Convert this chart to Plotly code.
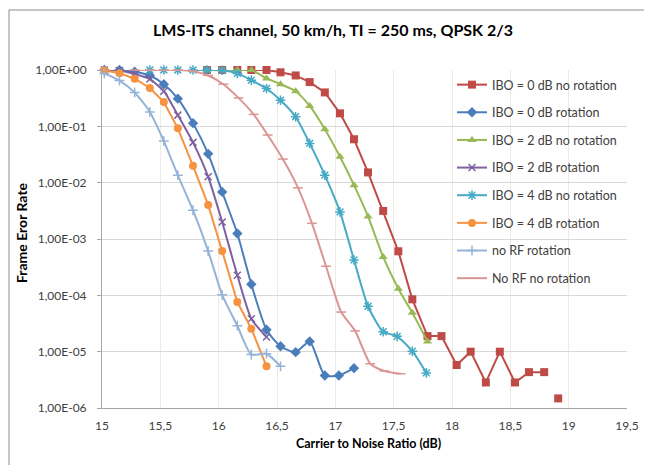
import plotly.graph_objects as go

# ---------------- data ----------------
x_ticks = [15, 15.5, 16, 16.5, 17, 17.5, 18, 18.5, 19, 19.5]
x_tick_text = ["15", "15,5", "16", "16,5", "17", "17,5", "18", "18,5", "19", "19,5"]
y_ticks = [1e-6, 1e-5, 1e-4, 1e-3, 1e-2, 1e-1, 1e0]
y_tick_text = ["1,00E-06", "1,00E-05", "1,00E-04", "1,00E-03", "1,00E-02", "1,00E-01", "1,00E+00"]

ibo0_norot_x = [15.9, 16.03, 16.16, 16.28, 16.41, 16.53, 16.66, 16.78, 16.91, 17.04, 17.16, 17.28, 17.41,
                17.54, 17.66, 17.79, 17.91, 18.04, 18.16, 18.29, 18.41, 18.54, 18.66, 18.79, None, 18.91]
ibo0_norot_y = [1.0, 1.0, 1.0, 1.0, 1.0, 0.91, 0.80, 0.61, 0.40, 0.17, 0.059, 0.0152, 0.00315,
                6.05e-4, 8.5e-5, 1.89e-5, 1.89e-5, 5.8e-6, 1.0e-5, 2.84e-6, 1.0e-5, 2.84e-6, 4.33e-6, 4.33e-6, None, 1.48e-6]

ibo0_rot_x = [15.02, 15.15, 15.28, 15.41, 15.53, 15.65, 15.78, 15.91, 16.03, 16.16, 16.28, 16.41,
              16.53, 16.66, 16.78, 16.91, 17.03, 17.16]
ibo0_rot_y = [1.0, 1.0, 0.93, 0.80, 0.56, 0.31, 0.114, 0.0325, 0.00686, 0.00125, 1.57e-4, 2.45e-5,
              1.25e-5, 9.8e-6, 1.52e-5, 3.78e-6, 3.78e-6, 5.1e-6]

ibo2_norot_x = [15.9, 16.03, 16.16, 16.28, 16.41, 16.53, 16.66, 16.78, 16.91, 17.04, 17.16, 17.28,
                17.41, 17.54, 17.66, 17.79]
ibo2_norot_y = [1.0, 1.0, 1.0, 1.0, 0.71, 0.56, 0.42, 0.23, 0.089, 0.0288, 0.00903, 0.00252,
                4.8e-4, 1.31e-4, 4.9e-5, 1.52e-5]

ibo2_rot_x = [15.02, 15.15, 15.28, 15.41, 15.53, 15.65, 15.78, 15.91, 16.03, 16.16, 16.28, 16.41]
ibo2_rot_y = [1.0, 0.98, 0.85, 0.69, 0.42, 0.158, 0.0519, 0.0127, 0.00201, 2.27e-4, 3.85e-5, 1.82e-5]

ibo4_norot_x = [15.41, 15.53, 15.65, 15.78, 15.9, 16.03, 16.16, 16.28, 16.41, 16.53, 16.66, 16.78,
                16.91, 17.04, 17.16, 17.28, 17.41, 17.53, 17.66, 17.78]
ibo4_norot_y = [1.0, 1.0, 1.0, 1.0, 1.0, 0.99, 0.87, 0.66, 0.47, 0.29, 0.148, 0.0498,
                0.0136, 0.00303, 4.25e-4, 6.4e-5, 2.26e-5, 1.87e-5, 1.02e-5, 4.2e-6]

ibo4_rot_x = [15.02, 15.15, 15.28, 15.41, 15.53, 15.65, 15.78, 15.91, 16.03, 16.16, 16.28, 16.41]
ibo4_rot_y = [0.98, 0.88, 0.70, 0.48, 0.27, 0.092, 0.0199, 0.00403, 6.1e-4, 7.6e-5, 2.56e-5, 5.5e-6]

norf_rot_x = [15.02, 15.15, 15.28, 15.41, 15.53, 15.65, 15.78, 15.91, 16.03, 16.16, 16.28, 16.41, 16.53]
norf_rot_y = [0.87, 0.65, 0.40, 0.18, 0.0547, 0.0136, 0.00324, 6.1e-4, 1.02e-4, 2.89e-5, 8.9e-6, 9.2e-6, 5.5e-6]

norf_norot_x = [15.28, 15.41, 15.53, 15.65, 15.78, 15.91, 16.04, 16.17, 16.30, 16.42, 16.55, 16.68,
                16.80, 16.92, 17.05, 17.17, 17.30, 17.42, 17.56]
norf_norot_y = [1.0, 1.0, 1.0, 1.0, 0.95, 0.80, 0.56, 0.32, 0.163, 0.070, 0.0262, 0.0081,
                0.0019, 3.28e-4, 5.05e-5, 2.34e-5, 6.1e-6, 4.55e-6, 4.06e-6]

series = [
    ("IBO = 0 dB no rotation", ibo0_norot_x, ibo0_norot_y, "#BE4B48", "square", 8, "linear"),
    ("IBO = 0 dB rotation", ibo0_rot_x, ibo0_rot_y, "#4A7EBB", "diamond", 8, "spline"),
    ("IBO = 2 dB no rotation", ibo2_norot_x, ibo2_norot_y, "#98B954", "triangle-up", 8, "spline"),
    ("IBO = 2 dB rotation", ibo2_rot_x, ibo2_rot_y, "#7D60A0", "x-thin", 7, "spline"),
    ("IBO = 4 dB no rotation", ibo4_norot_x, ibo4_norot_y, "#46AAC5", "asterisk", 8, "spline"),
    ("IBO = 4 dB rotation", ibo4_rot_x, ibo4_rot_y, "#F69240", "circle", 8, "linear"),
    ("no RF rotation", norf_rot_x, norf_rot_y, "#95B3D7", "cross-thin", 7, "spline"),
    ("No RF no rotation", norf_norot_x, norf_norot_y, "#D99694", "line-ew", 7, "spline"),
]

FONT = "Lato, 'Liberation Sans', Arial, sans-serif"
TXT = "#404040"

# page offset compensation (the page body adds 8 px on the left and top)
OFF = 8
L, T = 102 - OFF, 70 - OFF
R, B = 33, 65  # plot spans page x 102..627 and page y 70..408


def px_x(page_x):
    return (page_x - 102) / 525


def px_y(page_y):
    return (408 - page_y) / 338


fig = go.Figure()
for i, (name, xs, ys, col, sym, size, shape) in enumerate(series):
    thin = sym in ("x-thin", "asterisk", "cross-thin", "line-ew")
    fig.add_trace(go.Scatter(
        x=xs, y=ys, name=name, mode="lines+markers",
        line=dict(color=col, width=2, shape=shape, smoothing=0.6),
        marker=dict(symbol=sym, size=size, color=col,
                    line=dict(color=col, width=1.5 if thin else 0)),
        cliponaxis=False, connectgaps=False, legendgroup="g%d" % i,
    ))

fig.update_layout(
    width=652, height=465,
    paper_bgcolor="white", plot_bgcolor="white",
    margin=dict(l=L, r=R, t=T, b=B),
    font=dict(family=FONT, size=12, color=TXT),
    title=dict(text="<b>LMS-ITS channel, 50 km/h, TI = 250 ms, QPSK 2/3</b>",
               x=(333 - OFF) / 652, xanchor="center", y=1 - (30 - OFF) / 465, yanchor="middle",
               font=dict(family=FONT, size=16, color="black")),
    showlegend=True,
    legend=dict(x=px_x(452), xanchor="left", y=1.0, yanchor="top",
                bgcolor="rgba(0,0,0,0)", borderwidth=0, tracegroupgap=8.4,
                itemwidth=30, font=dict(family=FONT, size=12.5, color=TXT),
                traceorder="grouped"),
    xaxis=dict(range=[15, 19.5], tickvals=x_ticks, ticktext=x_tick_text,
               showgrid=True, gridcolor="#EEECE1", gridwidth=1,
               showline=True, linecolor="#A6A6A6", linewidth=1,
               ticks="", ticklabelstandoff=7, zeroline=False,
               tickfont=dict(family=FONT, size=12, color=TXT)),
    yaxis=dict(type="log", range=[-6, 0], tickvals=y_ticks, ticktext=y_tick_text,
               showgrid=True, gridcolor="#D9D9D9", gridwidth=1,
               showline=True, linecolor="#A6A6A6", linewidth=1,
               ticks="outside", ticklen=4, tickcolor="#A6A6A6",
               ticklabelstandoff=8, zeroline=False,
               tickfont=dict(family=FONT, size=12, color=TXT)),
    annotations=[
        dict(text="<b>Carrier to Noise Ratio (dB)</b>", xref="paper", yref="paper",
             x=px_x(368), y=px_y(443), xanchor="center", yanchor="middle",
             showarrow=False, font=dict(family=FONT, size=12.5, color="black")),
        dict(text="<b>Frame Eror Rate</b>", xref="paper", yref="paper",
             x=px_x(21), y=px_y(233), xanchor="center", yanchor="middle",
             textangle=-90, showarrow=False, font=dict(family=FONT, size=14, color="black")),
    ],
    shapes=[
        dict(type="line", xref="paper", yref="paper", x0=px_x(9), x1=px_x(700),
             y0=px_y(10), y1=px_y(10), line=dict(color="#8C8C8C", width=1)),
        dict(type="line", xref="paper", yref="paper", x0=px_x(9), x1=px_x(9),
             y0=px_y(10), y1=px_y(520), line=dict(color="#8C8C8C", width=1)),
    ],
)

fig.write_html("out.html")
